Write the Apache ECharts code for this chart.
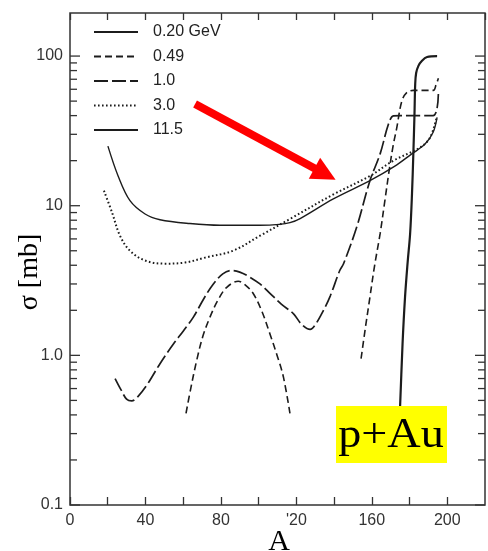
<!DOCTYPE html>
<html><head><meta charset="utf-8">
<script src="https://cdn.jsdelivr.net/npm/echarts@6/dist/echarts.min.js"></script>
<style>html,body{margin:0;padding:0;background:#fff}#c{width:488px;height:551px}</style>
</head><body><div id="c"></div>
<script>
// ---- data ----
const seriesNames = ['0.20 GeV', '0.49', '1.0', '3.0', '11.5'];
const s020 = [[173.8,0.22],[174.4,0.32],[175,0.46],[176.3,1.2],[177.6,2.44],[179,4.2],[180.3,6.5],[181.3,12],[182,22],[182.6,40],[183,65],[183.5,77],[184.7,86],[186.6,93],[189.3,98.5],[194.6,100]];
const s049a = [[61.5,0.41],[64,0.6],[67.2,0.93],[70.5,1.35],[74.2,1.8],[78.5,2.35],[83.1,2.85],[89.2,3.13],[93,2.95],[97.2,2.58],[101.5,2.0],[106,1.39],[110,0.98],[113.1,0.72],[116.6,0.41]];
const s049b = [[154.3,0.95],[156.5,1.5],[159,2.45],[161.5,4.0],[164.4,6.5],[167,11],[169.7,19],[171.5,26],[173.2,33],[175.9,50],[178.5,57],[182,59],[192.6,59],[194,64],[195.3,71]];
const s10 = [[23.9,0.70],[27,0.59],[30,0.51],[32.7,0.496],[36,0.53],[41,0.64],[47.7,0.88],[55,1.2],[60,1.45],[65.4,1.8],[71,2.4],[76,3.0],[81,3.5],[85.7,3.69],[90,3.6],[95,3.35],[100.7,3.0],[106,2.6],[112,2.2],[118.4,1.9],[123,1.6],[127.3,1.49],[130,1.6],[134.3,1.99],[138,2.5],[143,3.69],[145,4.09],[152,7.2],[159,14.7],[164.4,22.2],[168.8,35],[171.4,39.8],[175,40],[192.5,40],[195.3,58]];
const s30 = [[18,12.6],[22.3,9.0],[26.5,6.3],[31.8,5.0],[39.8,4.3],[50.4,4.1],[61,4.17],[71.6,4.5],[86.4,5.0],[100.7,6.3],[116.6,8.15],[139.6,11.9],[159,15.8],[171.4,20],[185.6,24.5],[190.9,28.6],[194.4,39]];
const s115 = [[20.1,25],[25.5,15.8],[31.8,10.8],[39.8,8.8],[47.7,8.06],[63.6,7.6],[79.5,7.4],[100.7,7.4],[111,7.5],[116.6,7.7],[122,8.2],[139.6,11.1],[159,14.7],[172,18.3],[181.2,22.2],[188.2,25.8],[192.5,31],[194.6,39]];
const xTickValues = [0, 40, 80, 120, 160, 200];
const xTickLabels = ['0', '40', '80', "'20", '160', '200'];
const yTickValues = [0.1, 1, 10, 100];
const yTickLabels = ['0.1', '1.0', '10', '100'];
const yMinorTicks = [0.2,0.3,0.4,0.5,0.6,0.7,0.8,0.9,2,3,4,5,6,7,8,9,20,30,40,50,60,70,80,90];
const arrowStart = [66.3, 47.9];
const arrowEnd = [135.2, 16.3];
const boxText = 'p+Au';
const xTitle = 'A';
const yTitle = 'σ [mb]';

// ---- chart ----
const X_MAX = 220, Y_MIN = 0.1, Y_MAX = 194;
const ink = '#1c1c1c';
const chart = echarts.init(document.getElementById('c'), null, {renderer: 'canvas'});
const s049 = s049a.concat([[135, '-']], s049b);
const tickData = yTickValues.map(v => [0, v, 1]).concat(yMinorTicks.map(v => [0, v, 0]));

function mkLine(name, data, width, type) {
  return {
    name, type: 'line', data, symbol: 'none', showSymbol: false, smooth: 0.35,
    connectNulls: false, silent: true, animation: false, z: 3,
    lineStyle: {color: ink, width, type, cap: 'butt'}, itemStyle: {color: ink}
  };
}

const option = {
  animation: false,
  backgroundColor: '#fff',
  grid: {left: 70, right: 3, top: 13, bottom: 46, show: true, containLabel: false, outerBoundsMode: 'none',
         borderColor: '#333', borderWidth: 1.5, backgroundColor: 'transparent'},
  legend: {
    data: seriesNames, orient: 'vertical', left: 88, top: 19,
    itemWidth: 44, itemHeight: 14, itemGap: 8.5, selectedMode: false,
    itemStyle: {color: 'rgba(0,0,0,0)', borderWidth: 0, opacity: 0},
    textStyle: {fontSize: 16, color: '#222', fontFamily: 'Liberation Sans', padding: [0, 0, 0, 10]}
  },
  xAxis: [{
    type: 'value', min: 0, max: X_MAX, interval: 20, position: 'bottom',
    axisLine: {show: false}, splitLine: {show: false},
    axisTick: {show: true, inside: true, length: 8, lineStyle: {color: '#333', width: 1.3}},
    axisLabel: {
      margin: 8, fontSize: 16, color: '#333', fontFamily: 'Liberation Sans',
      showMaxLabel: false,
      formatter: v => { const i = xTickValues.indexOf(v); return i >= 0 ? xTickLabels[i] : ''; }
    }
  }, {
    type: 'value', min: 0, max: X_MAX, interval: 20, position: 'top',
    axisLine: {show: false}, splitLine: {show: false}, axisLabel: {show: false},
    axisTick: {show: true, inside: true, length: 7, lineStyle: {color: '#333', width: 1.3}}
  }],
  yAxis: [{
    type: 'log', logBase: 10, min: Y_MIN, max: Y_MAX, position: 'left',
    axisLine: {show: false}, splitLine: {show: false}, axisTick: {show: false},
    axisLabel: {
      margin: 7, fontSize: 16, color: '#333', fontFamily: 'Liberation Sans', showMaxLabel: false,
      formatter: v => {
        const l = Math.log10(v), r = Math.round(l);
        if (Math.abs(l - r) > 1e-6) return '';
        const i = yTickValues.findIndex(t => Math.abs(Math.log10(t) - r) < 1e-6);
        return i >= 0 ? yTickLabels[i] : '';
      }
    }
  }],
  graphic: [
    {type: 'text', x: 30, y: 272, rotation: Math.PI / 2, z: 50,
     style: {text: yTitle, font: '28px "Liberation Serif"', fill: '#000', align: 'center', verticalAlign: 'middle'}},
    {type: 'text', x: 279, y: 542, z: 50,
     style: {text: xTitle, font: '30px "Liberation Serif"', fill: '#000', align: 'center', verticalAlign: 'middle'}},
    {type: 'rect', z: 100, shape: {x: 336, y: 406, width: 111, height: 57}, style: {fill: '#ffff00'}},
    {type: 'text', z: 101, x: 391, y: 436, scaleX: 1.1,
     style: {text: boxText, font: '42px "Liberation Serif"', fill: '#000', align: 'center', verticalAlign: 'middle'}}
  ],
  series: [
    mkLine(seriesNames[0], s020, 2.2, 'solid'),
    mkLine(seriesNames[1], s049, 1.6, [7, 4]),
    mkLine(seriesNames[2], s10, 1.7, [14, 4]),
    mkLine(seriesNames[3], s30, 2, [1.6, 2.4]),
    mkLine(seriesNames[4], s115, 1.4, 'solid'),
    {
      type: 'custom', silent: true, animation: false, data: tickData, clip: false, z: 2,
      renderItem: (params, api) => {
        const v = api.value(1), major = api.value(2);
        const len = major ? 10 : 7;
        const pL = api.coord([0, v]);
        const pR = api.coord([X_MAX, v]);
        const st = {stroke: '#333', lineWidth: 1.3};
        return {type: 'group', children: [
          {type: 'line', shape: {x1: pL[0], y1: pL[1], x2: pL[0] + len, y2: pL[1]}, style: st},
          {type: 'line', shape: {x1: pR[0], y1: pR[1], x2: pR[0] - len, y2: pR[1]}, style: st}
        ]};
      }
    },
    {
      type: 'line', data: [], silent: true, animation: false, z: 20,
      markLine: {
        silent: true, animation: false, symbol: ['none', 'triangle'], symbolSize: 24,
        label: {show: false},
        lineStyle: {color: '#ff0000', width: 8, type: 'solid'},
        itemStyle: {color: '#ff0000'},
        emphasis: {disabled: true},
        data: [[{coord: arrowStart}, {coord: arrowEnd}]]
      }
    }
  ]
};
chart.setOption(option);
</script>
</body></html>
